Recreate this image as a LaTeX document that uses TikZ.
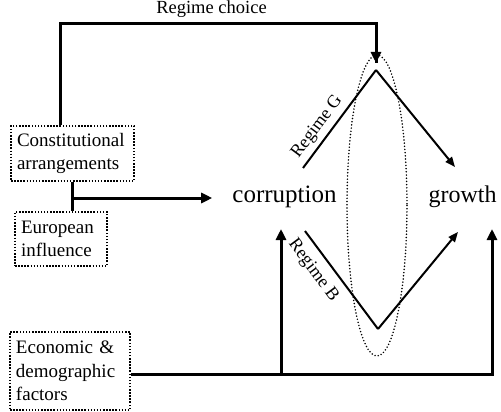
\documentclass[tikz,border=0pt]{standalone}
\usepackage{fontspec}
\setmainfont{Liberation Serif}
\usetikzlibrary{arrows.meta}
\begin{document}
\begin{tikzpicture}[x=1pt,y=-1pt,
  dbox/.style={draw, line width=1.5pt, dash pattern=on 1.5pt off 1.6pt, rectangle,
    inner xsep=6pt, inner ysep=0pt, align=left, font=\fontsize{19}{23.5}\selectfont},
  thk/.style={line width=3pt},
  thkarr/.style={line width=3pt, -{Triangle[length=11pt,width=10pt]}},
  rl/.style={line width=2pt},
  rlarr/.style={line width=2pt, -{Triangle[length=10pt,width=8pt]}},
  big/.style={font=\fontsize{25}{30}\selectfont, inner sep=0pt, anchor=base},
  lbl/.style={font=\fontsize{18}{20}\selectfont, inner sep=0pt},
  ]
\useasboundingbox (0,0) rectangle (501,412);
% boxes
\node[dbox, minimum width=123pt, minimum height=55pt, text width=111pt] (cons) at (72.5,153.5) {Constitutional\\arrangements};
\node[dbox, minimum width=92pt, minimum height=54pt, text width=80pt] (eur) at (61,239) {European\\influence};
\node[dbox, minimum width=120pt, minimum height=78pt, text width=108pt] (eco) at (70,371) {Economic \&\\demographic\\factors};
% main nodes
\node[big] (corr) at (284.5,202) {corruption};
\node[big, font=\fontsize{24}{29}\selectfont] (grow) at (462.5,202) {growth};
% coordinates
\coordinate (apG) at (376,70);
\coordinate (gS) at (303,168);
\coordinate (gE) at (455,167);
\coordinate (apB) at (378,329);
\coordinate (bS) at (305,231);
\coordinate (bE) at (458,232);
\coordinate (rcL) at (60,24);
\coordinate (rcR) at (376,24);
\coordinate (ceu) at (72,198);
\coordinate (e1) at (281,374);
\coordinate (e2) at (492,374);
\coordinate (c1) at (281,229);
\coordinate (g1) at (492,229);
% ellipse
\draw[line width=1.7pt, line cap=round, dash pattern=on 0pt off 3.2pt] (377,205.5) ellipse [x radius=30, y radius=150.5];
% regime choice
\draw[thk] (cons.north -| rcL) -- (rcL) -- (rcR) -- ([yshift=7pt]apG);
\draw[thkarr] (rcR) -- ([yshift=7pt]apG);
\node[font=\fontsize{18.5}{22}\selectfont, inner sep=0pt] (rc) at (211.5,9) {Regime choice};
% constitutional / european
\draw[thk] (cons.south -| ceu) -- (eur.north -| ceu);
\draw[thkarr, shorten >=20pt] (ceu) -- (corr.west |- ceu);
% economic
\draw[thkarr] (eco.east |- e1) -- (e2) -- (g1);
\draw[thkarr] (e1) -- (c1);
% regimes
\draw[rl] (gS) -- (apG);
\draw[rlarr] (apG) -- (gE);
\path (gS) -- (apG) node[lbl, pos=0.34, sloped, above=5pt] {Regime G};
\draw[rl] (bS) -- (apB);
\draw[rlarr] (apB) -- (bE);
\path (bS) -- (apB) node[lbl, pos=0.3, sloped, below=9pt] {Regime B};
\end{tikzpicture}
\end{document}
